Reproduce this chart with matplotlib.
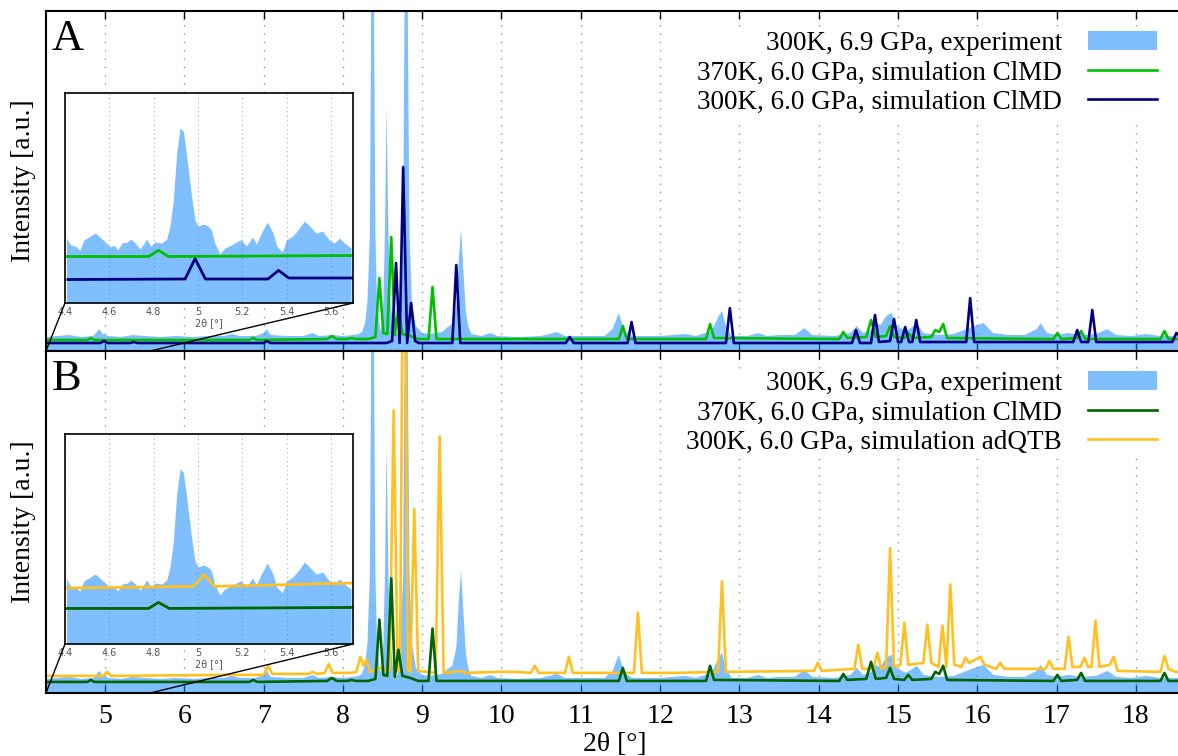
import numpy as np
import matplotlib
matplotlib.use('Agg')
import matplotlib.pyplot as plt
from matplotlib.patches import Patch, ConnectionPatch
from matplotlib.lines import Line2D

# heights (arbitrary intensity units)
# experiment 300K, 6.9 GPa -- same trace in both panels
exp_x = [4.26, 4.40, 4.55, 4.70, 4.85, 4.90, 4.93, 4.97, 5.05, 5.20, 5.35, 5.50, 5.70, 5.90,
         6.10, 6.30, 6.50, 6.60, 6.70, 6.90, 7.00, 7.04, 7.09, 7.30, 7.50, 7.62, 7.70, 7.88,
         8.00, 8.12, 8.20, 8.24, 8.28, 8.31, 8.34, 8.355, 8.375, 8.395, 8.41, 8.43, 8.47,
         8.49, 8.51, 8.53, 8.55, 8.575, 8.60, 8.635, 8.66, 8.69, 8.72, 8.76, 8.775, 8.80,
         8.82, 8.84, 8.87, 8.92, 9.00, 9.10, 9.25, 9.32, 9.38, 9.43, 9.46, 9.49, 9.52, 9.55,
         9.58, 9.62, 9.75, 9.86, 9.95, 10.2, 10.5, 10.7, 10.8, 11.0, 11.3, 11.40, 11.48,
         11.55, 11.65, 12.0, 12.32, 12.45, 12.65, 12.74, 12.78, 12.83, 12.9, 13.1, 13.24,
         13.35, 13.5, 13.7, 13.82, 13.92, 14.2, 14.4, 14.48, 14.56, 14.65, 14.71, 14.78,
         14.85, 14.92, 14.98, 15.1, 15.24, 15.32, 15.5, 15.7, 15.9, 16.0, 16.08, 16.2, 16.4,
         16.6, 16.75, 16.8, 16.88, 17.0, 17.15, 17.3, 17.5, 17.64, 17.75, 17.95, 18.13,
         18.3, 18.6]
exp_y = [14, 15, 16, 14, 15, 19, 22, 17, 15, 14, 16, 15, 14, 15,
         14, 15, 15, 17, 15, 15, 18, 22, 16, 15, 15, 18, 15, 16,
         15, 16, 17, 19, 28, 50, 117, 317, 1000, 317, 117, 50, 20,
         25, 50, 117, 245, 117, 50, 22, 17, 18, 50, 117, 317, 1000,
         317, 117, 50, 25, 18, 17, 19, 24, 27, 45, 90, 122, 80, 40,
         25, 17, 15, 18, 15, 14, 15, 19, 15, 15, 15, 22, 38,
         20, 15, 15, 17, 15, 20, 35, 40, 25, 15, 15, 18,
         15, 16, 16, 23, 16, 15, 18, 25, 18, 20, 28, 26,
         35, 38, 25, 20, 27, 18, 16, 17, 23, 26, 28, 18, 16,
         16, 22, 28, 18, 16, 18, 16, 17, 22, 16, 15, 17,
         15, 15]

# 370K, 6.0 GPa, simulation ClMD
cl370_x = [4.26, 4.777, 4.822, 4.867, 6.82, 6.87, 6.92, 7.80, 7.86, 7.92, 8.06, 8.11, 8.16,
           8.32, 8.41, 8.46, 8.51, 8.56, 8.61, 8.655, 8.70, 8.75, 8.85, 8.95, 9.08, 9.13,
           9.18, 11.48, 11.53, 11.58, 12.58, 12.63, 12.68, 14.26, 14.31, 14.36, 14.60, 14.66,
           14.72, 14.85, 14.90, 14.95, 15.08, 15.13, 15.18, 15.42, 15.47, 15.52, 15.57, 15.62,
           16.96, 17.01, 17.06, 17.26, 17.31, 17.36, 18.31, 18.36, 18.41, 18.6]
cl370_y = [11, 11, 13, 11, 11, 13, 11, 12, 15, 12, 12, 13, 12,
           12, 14, 73, 18, 17, 114, 16, 43, 17, 15, 12, 12, 64,
           12, 12, 25, 12, 12, 27, 13, 12, 19, 13, 14, 31,
           14, 15, 25, 14, 13, 18, 13, 14, 21, 19, 27, 13,
           12, 18, 12, 13, 20, 12, 12, 20, 12, 12]

# 300K, 6.0 GPa, simulation ClMD
cl300_x = [4.26, 4.942, 4.987, 5.034, 5.316, 5.364, 5.41, 7.00, 7.04, 7.09, 8.55, 8.62, 8.67,
           8.715, 8.76, 8.81, 8.86, 8.91, 8.96, 9.38, 9.43, 9.48, 10.81, 10.86, 10.91, 11.59,
           11.64, 11.69, 12.83, 12.88, 12.93, 14.42, 14.47, 14.52, 14.66, 14.71, 14.76, 14.90,
           14.95, 15.00, 15.04, 15.09, 15.14, 15.18, 15.23, 15.28, 15.86, 15.91, 15.96, 17.21,
           17.26, 17.31, 17.40, 17.45, 17.50, 18.46, 18.51, 18.6]
cl300_y = [8, 8, 10, 8, 8, 9, 8, 8, 10, 8, 8, 10, 88,
           8, 184, 8, 48, 10, 8, 8, 86, 8, 8, 14, 8, 8,
           29, 8, 8, 43, 8, 8, 21, 8, 8, 36, 9, 10,
           32, 9, 9, 24, 9, 9, 31, 9, 9, 53, 9, 9,
           21, 9, 9, 41, 9, 9, 18, 12]

# 300K, 6.0 GPa, simulation adQTB
qtb_x = [4.26, 4.979, 5.027, 5.076, 6.50, 7.00, 7.06, 7.11, 7.57, 7.62, 7.67, 7.77, 7.82, 7.87,
         8.10, 8.17, 8.22, 8.26, 8.30, 8.34, 8.39, 8.45, 8.59, 8.64, 8.69, 8.72, 8.77, 8.82,
         8.85, 8.90, 8.95, 9.17, 9.22, 9.27, 9.40, 9.48, 9.55, 9.94, 10.19, 10.37, 10.42,
         10.47, 10.67, 10.80, 10.85, 10.90, 11.20, 11.67, 11.72, 11.77, 12.20, 12.73, 12.78,
         12.83, 13.94, 13.99, 14.04, 14.45, 14.50, 14.55, 14.69, 14.74, 14.79, 14.85, 14.90,
         14.95, 15.03, 15.08, 15.13, 15.32, 15.37, 15.42, 15.51, 15.56, 15.61, 15.66, 15.71,
         15.80, 15.85, 15.90, 16.04, 16.09, 16.24, 16.29, 16.34, 16.86, 16.91, 16.96, 17.10,
         17.15, 17.20, 17.30, 17.35, 17.40, 17.44, 17.49, 17.54, 17.67, 17.72, 17.77, 18.31,
         18.36, 18.41, 18.50, 18.6]
qtb_y = [17, 17, 21, 17, 18, 18, 27, 19, 19, 21, 19, 20, 29, 20,
         20, 21, 36, 27, 33, 21, 22, 25, 22, 281, 22, 22, 600, 23,
         21, 183, 22, 20, 255, 20, 21, 22, 20, 21, 21, 20, 27,
         20, 20, 20, 36, 20, 20, 20, 80, 20, 20, 21, 111,
         21, 22, 30, 22, 24, 48, 24, 24, 40, 24, 26, 144,
         26, 28, 70, 28, 30, 68, 30, 26, 67, 26, 108, 28,
         26, 35, 30, 36, 28, 24, 30, 24, 24, 32, 24, 24,
         56, 26, 26, 35, 26, 26, 72, 26, 28, 36, 22, 21,
         37, 24, 21, 21]

# inset (zoom of 4.4 - 5.7), its own intensity scale
ins_x = [4.407, 4.425, 4.447, 4.467, 4.485, 4.507, 4.537, 4.557, 4.582, 4.605, 4.622, 4.637,
         4.657, 4.682, 4.697, 4.717, 4.739, 4.769, 4.787, 4.807, 4.837, 4.859, 4.874, 4.889,
         4.904, 4.919, 4.934, 4.949, 4.971, 4.987, 5.001, 5.024, 5.046, 5.061, 5.076, 5.099,
         5.121, 5.151, 5.181, 5.196, 5.219, 5.246, 5.264, 5.286, 5.313, 5.339, 5.356, 5.381,
         5.399, 5.428, 5.451, 5.481, 5.504, 5.533, 5.563, 5.593, 5.616, 5.639, 5.661, 5.691]
ins_exp = [65, 58, 57, 53, 63, 66, 70, 66, 61, 56, 58, 53,
           60, 61, 64, 60, 54, 64, 57, 61, 60, 64, 77, 103,
           150, 175, 172, 147, 107, 83, 77, 79, 77, 73, 60, 49,
           55, 58, 62, 63, 57, 66, 59, 70, 81, 70, 57, 51,
           63, 67, 73, 82, 77, 70, 72, 63, 60, 65, 60, 55]
ins_a370_x = [4.40, 4.777, 4.822, 4.867, 5.70]
ins_a370_y = [46.5, 46.5, 52.6, 46.5, 47.5]
ins_a300_x = [4.413, 4.942, 4.987, 5.034, 5.316, 5.364, 5.41, 5.70]
ins_a300_y = [23.5, 24, 44.3, 24, 24, 32.6, 25, 25]
ins_b370_x = [4.40, 4.777, 4.822, 4.871, 5.70]
ins_b370_y = [35.6, 35.6, 41.6, 35.6, 36.6]
ins_bqtb_x = [4.40, 4.979, 5.027, 5.076, 5.70]
ins_bqtb_y = [56, 57.6, 69.3, 57.6, 61]

xticks = [5, 6, 7, 8, 9, 10, 11, 12, 13, 14, 15, 16, 17, 18]
ins_ticks = [4.4, 4.6, 4.8, 5.0, 5.2, 5.4, 5.6]
ins_ticklabels = ['4.4', '4.6', '4.8', '5', '5.2', '5.4', '5.6']
zoom_end = 5.57

EXP_C = '#0080FF'
C370 = '#00C000'
C300 = '#000080'
C370B = '#006400'
CQTB = '#FFC020'

plt.rcParams['font.family'] = ['Liberation Serif', 'DejaVu Serif']

fig = plt.figure(figsize=(11.78, 7.56), dpi=100)
axA = fig.add_axes([0.03905, 0.5357, 0.9656, 0.4497])
axB = fig.add_axes([0.03905, 0.08333, 0.9656, 0.4524])
inA = fig.add_axes([0.05518, 0.5992, 0.2445, 0.2778])
inB = fig.add_axes([0.05518, 0.1481, 0.2445, 0.2778])


def setup_main(ax):
    ax.set_xlim(4.256, 18.6)
    ax.set_ylim(0, 340)
    ax.set_yticks([])
    ax.set_xticks(xticks)
    ax.tick_params(axis='x', direction='in', top=True, bottom=True, length=6, width=1,
                   labelsize=20, pad=8)
    ax.xaxis.grid(True, color='#909090', linestyle=(0, (1, 5)), linewidth=1)
    ax.set_axisbelow(True)
    for s in ax.spines.values():
        s.set_linewidth(1.5)
        s.set_zorder(5)
    ax.set_ylabel('Intensity [a.u.]', fontsize=20, labelpad=7)


def setup_inset(ax):
    ax.set_xlim(4.4, 5.7)
    ax.set_ylim(0, 210)
    ax.set_yticks([])
    ax.set_xticks(ins_ticks)
    ax.set_xticklabels(ins_ticklabels, family='DejaVu Sans')
    ax.tick_params(axis='x', direction='in', length=0, labelsize=7, labelcolor='#555555', pad=3)
    ax.xaxis.grid(True, color='#b0b0b0', linestyle=(0, (1, 3)), linewidth=0.8)
    ax.set_axisbelow(True)
    ax.set_xlabel('2θ [°]', fontsize=7, color='#555555', family='DejaVu Sans', labelpad=1)
    for s in ax.spines.values():
        s.set_linewidth(1.2)
        s.set_zorder(5)
    ax.fill_between(ins_x, 0, ins_exp, color=EXP_C, alpha=0.5, lw=0, zorder=3)


setup_main(axA)
setup_main(axB)
axA.tick_params(axis='x', labelbottom=False)
axB.set_xlabel('2θ [°]', fontsize=20, labelpad=2)

for ax in (axA, axB):
    ax.fill_between(exp_x, 0, exp_y, color=EXP_C, alpha=0.5, lw=0, zorder=3)

axA.plot(cl370_x, cl370_y, color=C370, lw=1.9, zorder=4)
axA.plot(cl300_x, cl300_y, color=C300, lw=1.9, zorder=4)
axB.plot(qtb_x, qtb_y, color=CQTB, lw=1.9, zorder=4)
axB.plot(cl370_x, cl370_y, color=C370B, lw=1.9, zorder=4)

setup_inset(inA)
setup_inset(inB)
inA.plot(ins_a370_x, ins_a370_y, color=C370, lw=2, zorder=4)
inA.plot(ins_a300_x, ins_a300_y, color=C300, lw=2, zorder=4)
inB.plot(ins_bqtb_x, ins_bqtb_y, color=CQTB, lw=2, zorder=4)
inB.plot(ins_b370_x, ins_b370_y, color=C370B, lw=2, zorder=4)

# zoom connector lines
for ins, ax in ((inA, axA), (inB, axB)):
    for xa, xb in ((0, ax.get_xlim()[0]), (1, zoom_end)):
        con = ConnectionPatch(xyA=(xa, 0), coordsA=ins.transAxes, xyB=(xb, 0),
                              coordsB=ax.transData, color='black', lw=1, zorder=6)
        fig.add_artist(con)

# panel letters
axA.text(0.005, 0.978, 'A', transform=axA.transAxes, fontsize=32, va='top', ha='left')
axB.text(0.005, 0.978, 'B', transform=axB.transAxes, fontsize=32, va='top', ha='left')

exp_handle = Patch(facecolor=EXP_C, alpha=0.5, edgecolor='none')


def legend(ax, handles, labels, top):
    leg = ax.legend(handles, labels, loc='upper right', bbox_to_anchor=(1173 / 1178, 1 - top / 756),
                    bbox_transform=fig.transFigure, markerfirst=False, fontsize=19.5,
                    handlelength=2.55, handleheight=0.7, handletextpad=0.95, labelspacing=0.16,
                    borderpad=0.1, frameon=True, fancybox=False, framealpha=1,
                    edgecolor='none', facecolor='white')
    leg.set_zorder(7)


legend(axA, [exp_handle, Line2D([], [], color=C370, lw=1.9), Line2D([], [], color=C300, lw=1.9)],
       ['300K, 6.9 GPa, experiment', '370K, 6.0 GPa, simulation ClMD',
        '300K, 6.0 GPa, simulation ClMD'], 15)
legend(axB, [exp_handle, Line2D([], [], color=C370B, lw=1.9), Line2D([], [], color=CQTB, lw=1.9)],
       ['300K, 6.9 GPa, experiment', '370K, 6.0 GPa, simulation ClMD',
        '300K, 6.0 GPa, simulation adQTB'], 355)

fig.savefig('out.png', dpi=100)
